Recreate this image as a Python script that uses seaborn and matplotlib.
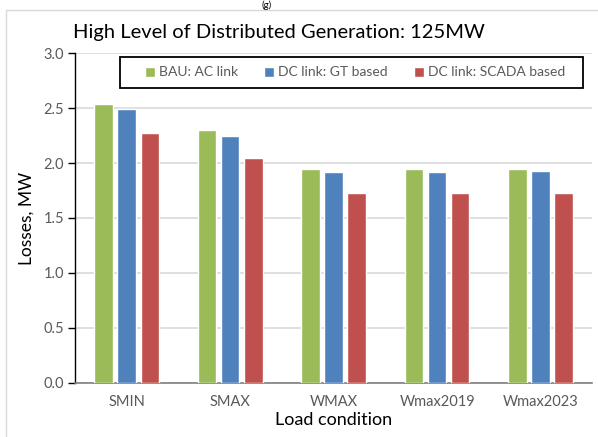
import numpy as np
import pandas as pd
import matplotlib
matplotlib.use('Agg')
import matplotlib.pyplot as plt
import seaborn as sns
from matplotlib.patches import Rectangle

# dados
condicoes = ['SMIN', 'SMAX', 'WMAX', 'Wmax2019', 'Wmax2023']
series = ['BAU: AC link', 'DC link: GT based', 'DC link: SCADA based']
bau_ac = [2.54, 2.30, 1.95, 1.95, 1.95]
dc_gt = [2.49, 2.25, 1.92, 1.92, 1.93]
dc_scada = [2.27, 2.05, 1.73, 1.73, 1.73]
cores = ['#9BBB59', '#4F81BD', '#C0504D']

df = pd.DataFrame({
    'Load condition': condicoes * 3,
    'serie': np.repeat(series, len(condicoes)),
    'Losses': bau_ac + dc_gt + dc_scada,
})

sns.set_style('white')
plt.rcParams['font.family'] = ['Lato', 'DejaVu Sans']

fig = plt.figure(figsize=(5.98, 4.37), dpi=100)
ax = fig.add_axes([0.1254, 0.1236, 0.865, 0.7551])

# borda externa do gráfico
fig.patches.append(Rectangle((6 / 598, -0.01), 1.0, 0.987, transform=fig.transFigure,
                             fill=False, edgecolor='#d9d9d9', linewidth=1.0))
fig.text(267 / 598, 0.999, '(g)', ha='center', va='top', fontsize=7, color='black')

sns.barplot(data=df, x='Load condition', y='Losses', hue='serie',
            palette=cores, width=0.67, gap=0.2, saturation=1, ax=ax, zorder=3)

ax.set_ylim(0, 3.0)
ax.set_yticks(np.arange(0, 3.01, 0.5))
ax.set_yticklabels([f'{v:.1f}' for v in np.arange(0, 3.01, 0.5)])
ax.yaxis.grid(True, color='#d9d9d9', linewidth=1.2, zorder=0)
ax.set_axisbelow(True)

for s in ['top', 'right']:
    ax.spines[s].set_visible(False)
ax.spines['left'].set_color('black')
ax.spines['left'].set_linewidth(1.0)
ax.spines['bottom'].set_color('#7f7f7f')
ax.spines['bottom'].set_linewidth(1.2)

ax.tick_params(axis='y', left=True, length=5, width=1, color='black',
               labelsize=10.5, labelcolor='#595959', pad=3)
ax.tick_params(axis='x', bottom=False, labelsize=10.5, labelcolor='#595959', pad=5)

ax.set_xlabel('Load condition', fontsize=13, color='black', labelpad=2)
ax.set_ylabel('Losses, MW', fontsize=12.5, color='black', labelpad=6)

fig.text(0.466, 0.925, 'High Level of Distributed Generation: 125MW',
         ha='center', va='center', fontsize=14.5, color='black')

# caixa da legenda desenhada à parte
fig.patches.append(Rectangle((120 / 598, 1 - 88 / 437), 463 / 598, 31 / 437,
                             transform=fig.transFigure, fill=False,
                             edgecolor='black', linewidth=1.3, zorder=5))
ax.legend(loc='center', ncol=3, bbox_to_anchor=(355 / 598, 1 - 72.5 / 437),
          bbox_transform=fig.transFigure, frameon=False,
          fontsize=10, labelcolor='#595959', handlelength=0.7,
          handleheight=0.7, handletextpad=0.3, borderaxespad=0, columnspacing=1.9)

plt.savefig('out.png', dpi=100)
